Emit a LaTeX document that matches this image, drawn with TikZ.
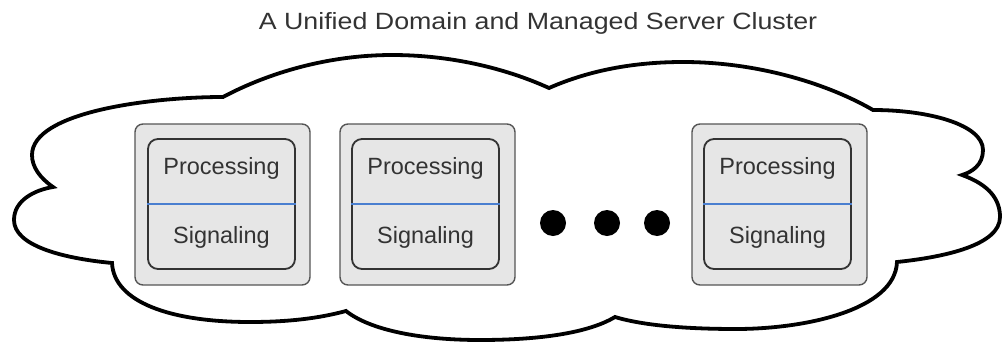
\documentclass[tikz,border=0pt]{standalone}
\usepackage{fontspec}
\setmainfont{Liberation Sans}
\newfontfamily\titlefont{Liberation Sans}[FakeStretch=1.14]
\definecolor{boxfill}{HTML}{E6E6E6}
\definecolor{outerline}{HTML}{555555}
\definecolor{innerline}{HTML}{333333}
\definecolor{divblue}{HTML}{4A7FD0}
\definecolor{txt}{HTML}{333333}
\tikzset{
  outerbox/.style={draw=outerline, line width=1.4pt, fill=boxfill, rounded corners=8pt,
    minimum width=175pt, minimum height=161pt, inner sep=0pt},
  innerbox/.style={draw=innerline, line width=1.8pt, fill=boxfill, rounded corners=10pt,
    minimum width=147pt, minimum height=130pt, inner sep=0pt},
  divider/.style={draw=divblue, line width=1.3pt},
  boxtext/.style={text=txt, font=\fontsize{23.5}{28}\selectfont, inner sep=0pt},
  cloudline/.style={draw=black, line width=3.8pt, line join=miter},
  dotstyle/.style={circle, fill=black, minimum size=26pt, inner sep=0pt},
}
\begin{document}
\begin{tikzpicture}[x=1pt, y=-1pt]
\useasboundingbox (0,0) rectangle (1004,343);
% title
\node[text=txt, font=\titlefont\fontsize{23.5}{28}\selectfont, inner sep=0pt] (title) at (538,23) {A Unified Domain and Managed Server Cluster};
% cloud
\draw[cloudline]
  (223,97) .. controls (270,72) and (330,55) .. (392,55)
           .. controls (450,55) and (505,68) .. (549,88)
           .. controls (590,70) and (635,62) .. (683,62)
           .. controls (760,62) and (830,85) .. (873,110)
           .. controls (930,110) and (983,125) .. (983,150)
           .. controls (983,165) and (972,172) .. (962,175)
           .. controls (990,185) and (1000,200) .. (1000,217)
           .. controls (1000,245) and (945,257) .. (897,262)
           .. controls (895,310) and (805,329) .. (736,329)
           .. controls (690,329) and (645,326) .. (615,317)
           .. controls (585,335) and (530,340) .. (480,340)
           .. controls (420,340) and (370,330) .. (346,311)
           .. controls (320,318) and (290,322) .. (250,322)
           .. controls (170,322) and (114,302) .. (112,263)
           .. controls (60,258) and (14,245) .. (14,220)
           .. controls (14,200) and (35,190) .. (53,187)
           .. controls (40,178) and (32,167) .. (32,155)
           .. controls (32,112) and (150,97) .. (223,97) -- cycle;
% server 1
\node[outerbox] (o1) at (222.5,204.5) {};
\node[innerbox] (i1) at (221.5,204) {};
\draw[divider] (i1.west) -- (i1.east);
\node[boxtext] (p1) at (221.5,168) {Processing};
\node[boxtext] (s1) at (221.5,237) {Signaling};
% server 2
\node[outerbox] (o2) at (427.5,204.5) {};
\node[innerbox] (i2) at (425.5,204) {};
\draw[divider] (i2.west) -- (i2.east);
\node[boxtext] (p2) at (425.5,168) {Processing};
\node[boxtext] (s2) at (425.5,237) {Signaling};
% server 3
\node[outerbox] (o3) at (779.5,204.5) {};
\node[innerbox] (i3) at (777.5,204) {};
\draw[divider] (i3.west) -- (i3.east);
\node[boxtext] (p3) at (777.5,168) {Processing};
\node[boxtext] (s3) at (777.5,237) {Signaling};
% dots
\node[dotstyle] (d1) at (553,223) {};
\node[dotstyle] (d2) at (607,223) {};
\node[dotstyle] (d3) at (657,223) {};
\end{tikzpicture}
\end{document}
